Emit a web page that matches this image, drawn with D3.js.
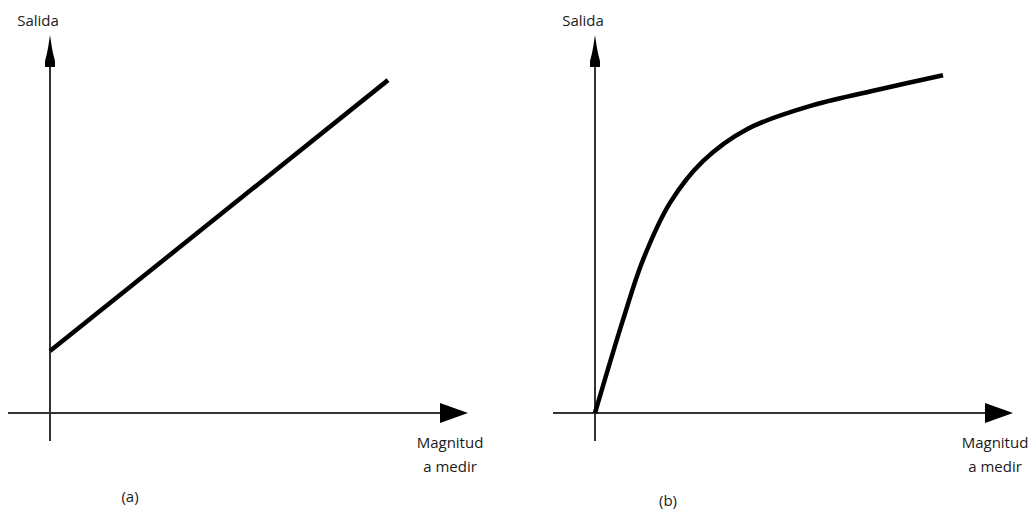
<!DOCTYPE html>
<html lang="es">
<head>
<meta charset="UTF-8">
<title>Salida vs Magnitud a medir</title>
<style>
  body { margin: 0; background: #fff; }
  svg { display: block; }
</style>
</head>
<body>
<div id="chart"></div>
<script src="https://d3js.org/d3.v7.min.js"></script>
<script>
// data (arbitrary units: origin 0, axis arrows at ~100)
const panelNames = ["(a)", "(b)"];
const yLabel = "Salida";
const xLabelLines = ["Magnitud", "a medir"];

// (a) linear response with offset
const linearX = [0, 84.5];
const linearY = [16.3, 87.6];

// (b) non-linear (saturating) response
const curveX = [0, 7, 12, 18.75, 27, 38, 54.5, 71.25, 87];
const curveY = [0, 24.5, 40.3, 55.3, 66.3, 74.7, 81.0, 85.2, 88.9];

const axisX = [-10.5, 104.5];   // horizontal axis extent
const axisY = [-7.4, 100];      // vertical axis extent

function draw() {
  const width = 1029, height = 512;

  const svg = d3.select("#chart").append("svg")
    .attr("width", width)
    .attr("height", height)
    .style("font-family", "'Open Sans', sans-serif")
    .style("font-size", "15px");

  const y = d3.scaleLinear().domain([0, 100]).range([413, 33]);
  const xScales = [
    d3.scaleLinear().domain([0, 100]).range([50, 450]),
    d3.scaleLinear().domain([0, 100]).range([595, 995])
  ];
  const series = [
    linearX.map((v, i) => [v, linearY[i]]),
    curveX.map((v, i) => [v, curveY[i]])
  ];
  const captionPos = [{ x: 20, dy: 89 }, { x: 18.25, dy: 93 }];

  xScales.forEach((x, p) => {
    const g = svg.append("g");
    const axisColor = "#333";

    // horizontal axis + arrow
    g.append("line")
      .attr("x1", x(axisX[0])).attr("x2", x(axisX[1]) - 20)
      .attr("y1", y(0)).attr("y2", y(0))
      .attr("stroke", axisColor).attr("stroke-width", 2);
    const tx = x(axisX[1]);
    g.append("path")
      .attr("d", `M${tx},${y(0)}L${tx - 28},${y(0) - 10}L${tx - 28},${y(0) + 10}Z`)
      .attr("fill", "#000");

    // vertical axis + arrow (narrow, stepped head)
    g.append("line")
      .attr("x1", x(0)).attr("x2", x(0))
      .attr("y1", y(axisY[0])).attr("y2", y(axisY[1]) + 20)
      .attr("stroke", axisColor).attr("stroke-width", 2);
    const ty = y(axisY[1]) + 2;
    const cx = x(0);
    g.append("path")
      .attr("d", `M${cx},${ty}L${cx + 1.8},${ty + 12}L${cx + 3.2},${ty + 19}L${cx + 5},${ty + 26}L${cx + 5},${ty + 32}` +
                 `L${cx - 5},${ty + 32}L${cx - 5},${ty + 26}L${cx - 3.2},${ty + 19}L${cx - 1.8},${ty + 12}Z`)
      .attr("fill", "#000");

    // response line
    const line = d3.line()
      .x(d => x(d[0]))
      .y(d => y(d[1]))
      .curve(p === 0 ? d3.curveLinear : d3.curveCatmullRom.alpha(0.5));
    g.append("path")
      .datum(series[p])
      .attr("d", line)
      .attr("fill", "none")
      .attr("stroke", "#000")
      .attr("stroke-width", 4.5)
      .attr("stroke-linecap", "butt");

    // labels
    g.append("text")
      .attr("x", x(0) - 12)
      .attr("y", 26)
      .attr("text-anchor", "middle")
      .attr("fill", "#1a1a1a")
      .text(yLabel);

    g.append("text")
      .attr("text-anchor", "middle")
      .attr("fill", "#1a1a1a")
      .selectAll("tspan")
      .data(xLabelLines)
      .join("tspan")
      .attr("x", x(100))
      .attr("y", (d, i) => 448 + i * 23.5)
      .text(d => d);

    g.append("text")
      .attr("x", x(captionPos[p].x))
      .attr("y", y(0) + captionPos[p].dy)
      .attr("text-anchor", "middle")
      .attr("fill", "#1a1a1a")
      .text(panelNames[p]);
  });
}

document.addEventListener("DOMContentLoaded", draw);
</script>
</body>
</html>
